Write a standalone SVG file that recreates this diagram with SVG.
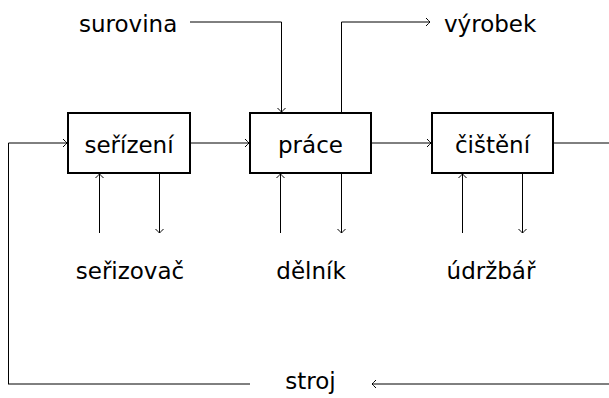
<svg xmlns="http://www.w3.org/2000/svg" width="609" height="398" viewBox="0 0 609 398">
<defs>
<style>
text{font-family:"DejaVu Sans",sans-serif;font-size:23px;fill:#000}
.box{fill:#fff;stroke:#000;stroke-width:2}
.ln{fill:none;stroke:#000;stroke-width:1}
.ar{marker-end:url(#to)}
</style>
<marker id="to" viewBox="-6 -5 8 10" markerWidth="8" markerHeight="10" refX="0" refY="0" orient="auto" markerUnits="userSpaceOnUse">
<path d="M-4,-4 Q-1,-1 0,0 Q-1,1 -4,4" fill="none" stroke="#000" stroke-width="1"/>
</marker>
</defs>
<rect width="609" height="398" fill="#fff"/>
<g id="connectors">
<path class="ln ar" d="M8.5,384 V143 H67"/>
<path class="ln ar" d="M191,143 H249"/>
<path class="ln ar" d="M372,143 H431"/>
<path class="ln" d="M554,143 H609"/>
<path class="ln ar" d="M190,22 H281.5 V112"/>
<path class="ln ar" d="M341.5,112 V22 H430"/>
<path class="ln ar" d="M99.5,233 V174"/>
<path class="ln ar" d="M159.5,174 V233"/>
<path class="ln ar" d="M280.5,233 V174"/>
<path class="ln ar" d="M341.5,174 V233"/>
<path class="ln ar" d="M462.5,233 V174"/>
<path class="ln ar" d="M522.5,174 V233"/>
<path class="ln" d="M8,384 H250"/>
<path class="ln ar" d="M609,384 H372"/>
</g>
<g id="n-serizeni"><rect class="box" x="68" y="113" width="122" height="60"/><text x="129" y="153" text-anchor="middle">seřízení</text></g>
<g id="n-prace"><rect class="box" x="250" y="113" width="121" height="60"/><text x="310.5" y="153" text-anchor="middle">práce</text></g>
<g id="n-cisteni"><rect class="box" x="432" y="113" width="121" height="60"/><text x="492.5" y="153" text-anchor="middle">čištění</text></g>
<g id="n-surovina"><text x="79" y="32">surovina</text></g>
<g id="n-vyrobek"><text x="444" y="32">výrobek</text></g>
<g id="n-serizovac"><text x="130" y="279" text-anchor="middle">seřizovač</text></g>
<g id="n-delnik"><text x="311" y="279" text-anchor="middle">dělník</text></g>
<g id="n-udrzbar"><text x="491" y="279" text-anchor="middle">údržbář</text></g>
<g id="n-stroj"><text x="310.5" y="389" text-anchor="middle">stroj</text></g>
</svg>
